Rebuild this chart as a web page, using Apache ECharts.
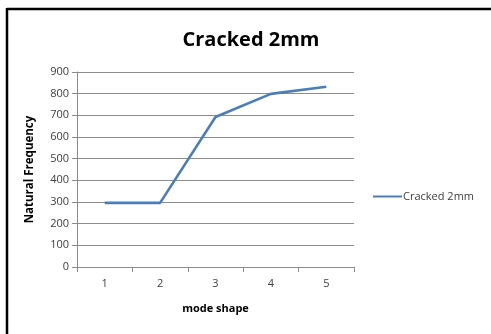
<!DOCTYPE html>
<html>
<head>
<meta charset="utf-8">
<script src="https://cdn.jsdelivr.net/npm/echarts@6/dist/echarts.min.js"></script>
<style>
  html, body { margin: 0; padding: 0; background: #fff; }
  #chart { width: 491px; height: 334px; }
</style>
</head>
<body>
<div id="chart"></div>
<script>
// Natural frequency per mode shape, cracked specimen (2 mm)
const modes = ['1', '2', '3', '4', '5'];
const frequency = [296, 296, 692, 799, 832];
const seriesName = 'Cracked 2mm';

const chart = echarts.init(document.getElementById('chart'), null, { renderer: 'canvas' });
const font = 'Open Sans, Liberation Sans, sans-serif';

chart.setOption({
  animation: false,
  backgroundColor: '#ffffff',
  title: {
    text: seriesName,
    left: 246,
    textAlign: 'center',
    top: 25,
    textStyle: { fontFamily: font, fontSize: 20, fontWeight: 'bold', color: '#000' }
  },
  legend: {
    data: [seriesName],
    left: 373,
    top: 191,
    padding: 0,
    itemWidth: 29,
    itemHeight: 14,
    itemGap: 0,
    icon: 'path://M0,6 L29,6 L29,8 L0,8 Z',
    textStyle: { fontFamily: font, fontSize: 11, color: '#404040', padding: [0, 0, 0, -4] }
  },
  grid: { left: 77, right: 137, top: 72, bottom: 67 },
  xAxis: {
    type: 'category',
    data: modes,
    boundaryGap: true,
    name: 'mode shape',
    nameLocation: 'middle',
    nameGap: 36,
    nameTextStyle: { fontFamily: font, fontSize: 11, fontWeight: 'bold', color: '#000' },
    axisLine: { lineStyle: { color: '#8c8c8c', width: 1 } },
    axisTick: { show: true, length: 5, lineStyle: { color: '#8c8c8c' } },
    axisLabel: { fontFamily: font, fontSize: 11, color: '#404040', margin: 11 }
  },
  yAxis: {
    type: 'value',
    min: 0,
    max: 900,
    interval: 100,
    name: 'Natural Frequency',
    nameLocation: 'middle',
    nameGap: 41,
    nameRotate: 90,
    nameTextStyle: { fontFamily: font, fontSize: 11.5, fontWeight: 'bold', color: '#000' },
    axisLine: { show: true, lineStyle: { color: '#8c8c8c', width: 1 } },
    axisTick: { show: true, length: 5, lineStyle: { color: '#8c8c8c' } },
    axisLabel: { fontFamily: font, fontSize: 11, color: '#404040', margin: 8 },
    splitLine: { lineStyle: { color: '#8c8c8c', width: 1 } }
  },
  series: [{
    name: seriesName,
    type: 'line',
    data: frequency,
    symbol: 'none',
    lineStyle: { color: '#4a7ebb', width: 2.6 },
    itemStyle: { color: '#4a7ebb' }
  }],
  graphic: [
    { type: 'line', shape: { x1: 7, y1: 9, x2: 491, y2: 9 }, style: { stroke: '#000', lineWidth: 2.5 } },
    { type: 'line', shape: { x1: 7, y1: 8, x2: 7, y2: 334 }, style: { stroke: '#000', lineWidth: 2.5 } }
  ]
});
</script>
</body>
</html>
